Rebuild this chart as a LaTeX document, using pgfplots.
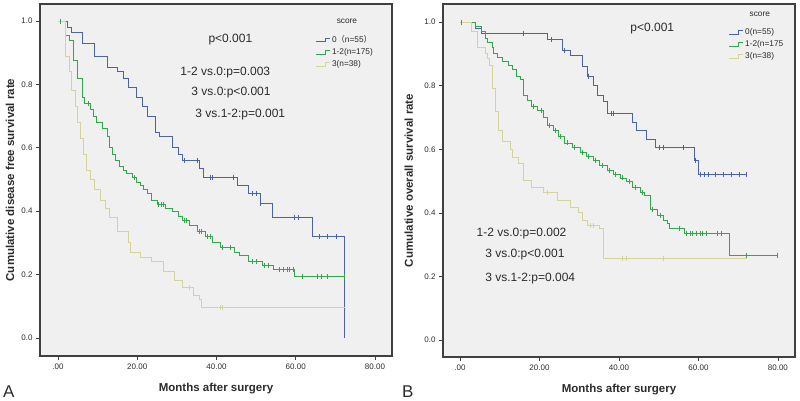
\documentclass[border=0pt]{standalone}
\usepackage{fontspec}
\setmainfont{Liberation Sans}
\newfontfamily\cjk{Noto Sans CJK SC}
\usepackage{pgfplots}
\pgfplotsset{compat=1.18}

\definecolor{blueK}{HTML}{4B63AC}
\definecolor{greenK}{HTML}{33A84A}
\definecolor{yellowK}{HTML}{D6D39A}
\definecolor{bggray}{HTML}{F0F0F0}
\definecolor{framegray}{HTML}{404040}
\definecolor{txt}{HTML}{2B2B2B}

\pgfplotsset{kmaxis/.style={
  scale only axis, width=352pt, height=352pt,
  axis background/.style={fill=bggray},
  axis line style={draw=framegray, line width=1.2pt},
  tick align=outside, xtick pos=bottom, ytick pos=left,
  major tick length=4pt,
  tick style={draw=framegray, line width=0.8pt},
  xtick={0,20,40,60,80}, xticklabels={.00,20.00,40.00,60.00,80.00},
  ytick={0,0.2,0.4,0.6,0.8,1.0},
  yticklabel style={/pgf/number format/fixed, /pgf/number format/fixed zerofill, /pgf/number format/precision=1},
  /pgf/number format/assume math mode=true,
  ticklabel style={font=\fontsize{8}{9}\selectfont, text=txt},
  label style={font=\bfseries\fontsize{11.5}{13}\selectfont, text=txt},
  xlabel style={at={(axis description cs:0.5,-0.093)}, anchor=center},
  ylabel style={at={(axis description cs:-0.085,0.5)}, anchor=center},
  legend style={draw=none, fill=none, font=\fontsize{8.3}{9}\selectfont, text=txt,
    row sep=0.5pt, inner sep=0pt},
  legend cell align=left,
  legend image code/.code={\draw[#1] (0pt,-1.5pt) -- (10pt,-1.5pt) -- (10pt,2pt) -- (14pt,2pt);},
  every axis plot/.append style={line width=0.9pt},
}}

\begin{document}
\begin{tikzpicture}
\path[use as bounding box] (0,0) rectangle (800pt,401pt);

% panel A
\begin{axis}[kmaxis, at={(40pt,45pt)}, anchor=south west,
  xmin=-4.54, xmax=84.3, ymin=-0.057, ymax=1.054,
  xlabel={Months after surgery}, ylabel={Cumulative disease free survival rate},
  legend style={at={(rel axis cs:0.781,0.916)}, anchor=north west}]
\addplot[const plot, blueK] coordinates {(0,1.0) (2.3,0.98) (3.5,0.965) (6.1,0.93) (9.3,0.89) (12.6,0.855) (15.1,0.84) (16.4,0.82) (17.7,0.79) (19.9,0.76) (21.2,0.73) (22.5,0.70) (24.5,0.65) (25.7,0.635) (29.0,0.60) (30.3,0.58) (31.5,0.56) (35.8,0.535) (36.6,0.505) (45.2,0.48) (48.0,0.455) (51.0,0.425) (54.0,0.38) (64.1,0.32) (72.2,0.0)};
\addlegendentry{0{\cjk （}n=55{\cjk ）}}
\addplot[const plot, greenK] coordinates {(0,1.0) (1.8,0.955) (3.0,0.94) (3.8,0.877) (5.0,0.82) (6.1,0.76) (6.8,0.74) (8.1,0.72) (9.0,0.70) (9.8,0.68) (11.1,0.66) (12.4,0.635) (13.1,0.60) (13.8,0.58) (14.4,0.56) (15.6,0.54) (16.5,0.53) (17.4,0.52) (18.9,0.505) (19.8,0.49) (20.7,0.48) (21.6,0.468) (22.5,0.455) (23.7,0.435) (25.0,0.42) (27.0,0.41) (29.0,0.40) (30.3,0.385) (31.5,0.37) (33.3,0.355) (35.1,0.335) (37.1,0.32) (38.9,0.30) (40.9,0.285) (44.5,0.27) (45.9,0.26) (48.0,0.24) (51.7,0.23) (54.3,0.215) (59.8,0.193) (72.4,0.193)};
\addlegendentry{1-2(n=175)}
\addplot[const plot, yellowK] coordinates {(0,1.0) (1.8,0.97) (2.0,0.89) (3.0,0.84) (3.5,0.78) (4.3,0.73) (5.0,0.68) (5.6,0.63) (6.3,0.58) (7.3,0.53) (8.3,0.50) (9.3,0.47) (10.6,0.435) (12.1,0.41) (13.1,0.38) (15.1,0.335) (17.7,0.30) (18.2,0.27) (20.7,0.255) (23.7,0.24) (26.5,0.21) (29.5,0.183) (31.3,0.158) (34.1,0.135) (35.8,0.12) (36.3,0.095) (72.4,0.095)};
\addlegendentry{3(n=38)}
\addplot[only marks, mark=|, mark size=2.5pt, blueK, forget plot] coordinates {(32.0,0.56) (35.3,0.56) (38.4,0.505) (39.1,0.505) (44.2,0.505) (49.2,0.455) (50.2,0.455) (51.0,0.425) (59.8,0.38) (60.6,0.38) (66.1,0.32) (68.1,0.32) (70.4,0.32)};
\addplot[only marks, mark=|, mark size=2.5pt, greenK, forget plot] coordinates {(0.5,1.0) (7.6,0.74) (19.4,0.505) (25.4,0.42) (26.0,0.42) (26.6,0.42) (31.8,0.37) (32.4,0.37) (35.6,0.335) (36.3,0.335) (37.8,0.32) (38.4,0.32) (41.6,0.285) (43.4,0.285) (49.0,0.24) (50.2,0.24) (52.2,0.23) (53.0,0.23) (56.0,0.215) (56.8,0.215) (57.8,0.215) (58.5,0.215) (59.3,0.215) (61.8,0.193) (65.4,0.193) (66.6,0.193) (68.1,0.193) (72.4,0.193)};
\addplot[only marks, mark=|, mark size=2.5pt, yellowK, forget plot] coordinates {(33.3,0.158) (40.9,0.095) (41.6,0.095)};
\node[font=\fontsize{8.3}{9}\selectfont, text=txt] at (rel axis cs:0.872,0.952) {score};
\begin{scope}[font=\fontsize{12}{14}\selectfont, text=txt]
\node[anchor=west] at (axis cs:37.1,0.943) {p<0.001};
\node[anchor=west] at (axis cs:30.0,0.839) {1-2 vs.0:p=0.003};
\node[anchor=west] at (axis cs:32.8,0.776) {3 vs.0:p<0.001};
\node[anchor=west] at (axis cs:33.8,0.705) {3 vs.1-2:p=0.001};
\end{scope}
\end{axis}

% panel B
\begin{axis}[kmaxis, at={(443pt,44pt)}, anchor=south west, height=353pt,
  xmin=-4.28, xmax=84.3, ymin=-0.053, ymax=1.057,
  xlabel={Months after surgery}, ylabel={Cumulative overall survival rate},
  ylabel style={at={(axis description cs:-0.097,0.5)}},
  legend style={at={(rel axis cs:0.81,0.936)}, anchor=north west}]
\addplot[const plot, blueK] coordinates {(0,1.0) (3.8,0.98) (5.5,0.965) (21.9,0.945) (25.9,0.91) (27.7,0.895) (30.9,0.86) (32.0,0.83) (33.5,0.80) (34.7,0.77) (36.0,0.75) (37.0,0.714) (43.3,0.686) (44.5,0.66) (47.0,0.63) (49.1,0.605) (59.1,0.566) (59.9,0.52) (72.2,0.52)};
\addlegendentry{0(n=55)}
\addplot[const plot, greenK] coordinates {(0,1.0) (3.8,0.985) (5.5,0.97) (6.3,0.95) (7.0,0.935) (8.1,0.92) (8.3,0.90) (9.3,0.89) (10.8,0.875) (12.1,0.865) (13.3,0.85) (14.3,0.83) (15.1,0.82) (15.9,0.77) (16.9,0.755) (18.1,0.735) (19.6,0.723) (20.9,0.70) (21.9,0.675) (23.4,0.66) (24.7,0.64) (26.4,0.62) (28.2,0.605) (30.2,0.59) (31.7,0.578) (33.5,0.566) (35.2,0.55) (37.0,0.535) (38.5,0.522) (40.3,0.51) (42.0,0.50) (43.5,0.48) (45.3,0.465) (46.5,0.456) (47.8,0.44) (48.0,0.41) (49.8,0.393) (51.3,0.375) (52.1,0.368) (52.8,0.352) (56.6,0.336) (67.9,0.265) (79.8,0.265)};
\addlegendentry{1-2(n=175}
\addplot[const plot, yellowK] coordinates {(0,1.0) (3.0,0.97) (4.5,0.92) (6.3,0.90) (7.0,0.885) (7.5,0.865) (8.1,0.79) (8.8,0.72) (9.6,0.66) (10.8,0.625) (12.6,0.60) (13.3,0.575) (14.6,0.556) (15.9,0.503) (18.1,0.481) (20.9,0.465) (24.4,0.44) (27.7,0.418) (29.7,0.40) (30.9,0.377) (32.0,0.36) (35.2,0.35) (36.2,0.256) (72.2,0.256)};
\addlegendentry{3(n=38)}
\addplot[only marks, mark=|, mark size=2.5pt, blueK, forget plot] coordinates {(15.9,0.965) (23.1,0.945) (26.4,0.91) (32.4,0.83) (38.0,0.714) (38.7,0.714) (50.3,0.605) (51.1,0.605) (56.1,0.605) (59.3,0.566) (60.4,0.52) (61.4,0.52) (62.4,0.52) (64.2,0.52) (66.2,0.52) (68.2,0.52) (70.2,0.52) (72.2,0.52)};
\addplot[only marks, mark=|, mark size=2.5pt, greenK, forget plot] coordinates {(0.3,1.0) (18.4,0.735) (20.4,0.723) (22.5,0.675) (24.0,0.66) (25.3,0.64) (27.0,0.62) (28.9,0.605) (30.8,0.59) (32.3,0.578) (34.0,0.566) (35.9,0.55) (37.7,0.535) (39.2,0.522) (41.0,0.51) (42.7,0.50) (44.2,0.48) (45.8,0.465) (48.5,0.41) (50.5,0.393) (55.3,0.352) (57.1,0.336) (57.9,0.336) (58.6,0.336) (59.6,0.336) (60.4,0.336) (61.1,0.336) (62.1,0.336) (64.9,0.336) (65.9,0.336) (72.0,0.265) (79.8,0.265)};
\addplot[only marks, mark=|, mark size=2.5pt, yellowK, forget plot] coordinates {(21.9,0.465) (32.7,0.36) (33.7,0.36) (41.0,0.256) (42.0,0.256) (51.1,0.256)};
\node[font=\fontsize{8.3}{9}\selectfont, text=txt] at (rel axis cs:0.90,0.972) {score};
\begin{scope}[font=\fontsize{12}{14}\selectfont, text=txt]
\node[anchor=west] at (axis cs:42.0,0.981) {p<0.001};
\node[anchor=west] at (axis cs:3.3,0.336) {1-2 vs.0:p=0.002};
\node[anchor=west] at (axis cs:5.5,0.268) {3 vs.0:p<0.001};
\node[anchor=west] at (axis cs:5.5,0.195) {3 vs.1-2:p=0.004};
\end{scope}
\end{axis}

\node[anchor=south west, font=\fontsize{17}{18}\selectfont, text=txt, inner sep=0pt] at (3pt,3pt) {A};
\node[anchor=south west, font=\fontsize{17}{18}\selectfont, text=txt, inner sep=0pt] at (402pt,3pt) {B};
\end{tikzpicture}
\end{document}
